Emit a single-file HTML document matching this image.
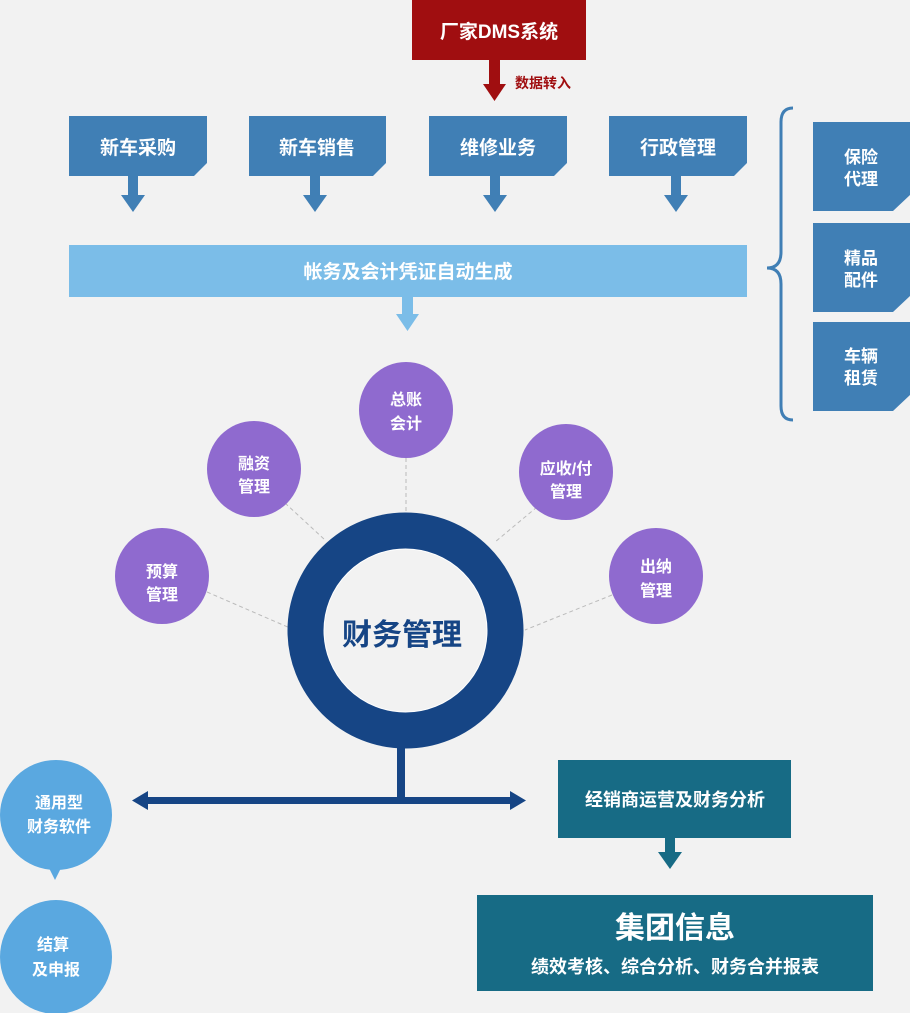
<!DOCTYPE html>
<html><head><meta charset="utf-8"><style>
html,body{margin:0;padding:0;background:#f2f2f2;}
svg{display:block;font-family:"Liberation Sans","Noto Sans CJK SC",sans-serif;font-weight:bold;}
</style></head><body>
<svg width="910" height="1013" viewBox="0 0 910 1013" xmlns="http://www.w3.org/2000/svg">
<rect width="910" height="1013" fill="#f2f2f2"/>
<!-- DMS -->
<rect x="412" y="0" width="174" height="60" fill="#a00e10"/>
<text x="499" y="38" fill="#fff" font-size="19" text-anchor="middle">厂家DMS系统</text>
<rect x="489" y="60" width="11" height="25" fill="#a00e10"/>
<polygon points="483,84 506,84 494.5,101" fill="#a00e10"/>
<text x="515" y="88" fill="#a00e10" font-size="14">数据转入</text>
<!-- four boxes -->
<g fill="#407fb5">
<polygon points="69,116 207,116 207,163 194,176 69,176"/>
<polygon points="249,116 386,116 386,163 373,176 249,176"/>
<polygon points="429,116 567,116 567,163 554,176 429,176"/>
<polygon points="609,116 747,116 747,163 734,176 609,176"/>
<rect x="128" y="176" width="10" height="20"/><polygon points="121,195 145,195 133,212"/>
<rect x="310" y="176" width="10" height="20"/><polygon points="303,195 327,195 315,212"/>
<rect x="490" y="176" width="10" height="20"/><polygon points="483,195 507,195 495,212"/>
<rect x="671" y="176" width="10" height="20"/><polygon points="664,195 688,195 676,212"/>
</g>
<g fill="#fff" font-size="19" text-anchor="middle">
<text x="138" y="154">新车采购</text>
<text x="317" y="154">新车销售</text>
<text x="498" y="154">维修业务</text>
<text x="678" y="154">行政管理</text>
</g>
<!-- light bar -->
<rect x="69" y="245" width="678" height="52" fill="#7bbde8"/>
<text x="408" y="278" fill="#fff" font-size="19" text-anchor="middle">帐务及会计凭证自动生成</text>
<rect x="402" y="297" width="11" height="18" fill="#7bbde8"/>
<polygon points="396,314 419,314 407.5,331" fill="#7bbde8"/>
<!-- bracket -->
<path d="M793,108 Q781,108 781,122 L781,252 Q781,268 767,268 Q781,268 781,284 L781,406 Q781,420 793,420" fill="none" stroke="#407fb5" stroke-width="3"/>
<g fill="#407fb5">
<polygon points="813,122 910,122 910,195 893,211 813,211"/>
<polygon points="813,223 910,223 910,296 893,312 813,312"/>
<polygon points="813,322 910,322 910,395 893,411 813,411"/>
</g>
<g fill="#fff" font-size="17" text-anchor="middle">
<text x="861" y="163">保险</text><text x="861" y="185">代理</text>
<text x="861" y="264">精品</text><text x="861" y="286">配件</text>
<text x="861" y="362">车辆</text><text x="861" y="384">租赁</text>
</g>
<!-- dashed connectors -->
<g stroke="#bbb" stroke-width="1" stroke-dasharray="4,3">
<line x1="406" y1="458" x2="406" y2="514"/>
<line x1="285" y1="503" x2="325" y2="540"/>
<line x1="537" y1="507" x2="495" y2="542"/>
<line x1="207" y1="592" x2="290" y2="628"/>
<line x1="612" y1="595" x2="525" y2="630"/>
</g>
<!-- purple circles -->
<g fill="#8f6acf">
<ellipse cx="406" cy="410" rx="47" ry="48"/>
<ellipse cx="254" cy="469" rx="47" ry="48"/>
<ellipse cx="566" cy="472" rx="47" ry="48"/>
<ellipse cx="162" cy="576" rx="47" ry="48"/>
<ellipse cx="656" cy="576" rx="47" ry="48"/>
</g>
<g fill="#fff" font-size="16" text-anchor="middle">
<text x="406" y="405">总账</text><text x="406" y="429">会计</text>
<text x="254" y="469">融资</text><text x="254" y="492">管理</text>
<text x="566" y="474">应收/付</text><text x="566" y="497">管理</text>
<text x="162" y="577">预算</text><text x="162" y="600">管理</text>
<text x="656" y="572">出纳</text><text x="656" y="596">管理</text>
</g>
<!-- ring -->
<circle cx="405.5" cy="630.5" r="100" fill="#fff" stroke="#164585" stroke-width="36"/>
<circle cx="405.5" cy="630.5" r="81" fill="#f2f2f2"/>
<text x="402" y="645" fill="#164585" font-size="30" text-anchor="middle">财务管理</text>
<!-- stem & arrow -->
<rect x="397" y="746" width="8" height="55" fill="#164585"/>
<rect x="145" y="797" width="368" height="7" fill="#164585"/>
<polygon points="132,800.5 148,791 148,810" fill="#164585"/>
<polygon points="526,800.5 510,791 510,810" fill="#164585"/>
<!-- left bubbles -->
<ellipse cx="56" cy="815" rx="56" ry="55" fill="#5aa8e0"/>
<polygon points="49,868 61,868 55,880" fill="#5aa8e0"/>
<ellipse cx="56" cy="957" rx="56" ry="57" fill="#5aa8e0"/>
<g fill="#fff" font-size="16" text-anchor="middle">
<text x="59" y="808">通用型</text><text x="59" y="832">财务软件</text>
<text x="53" y="950">结算</text><text x="56" y="975">及申报</text>
</g>
<!-- right boxes -->
<rect x="558" y="760" width="233" height="78" fill="#176b85"/>
<text x="675" y="806" fill="#fff" font-size="18" text-anchor="middle">经销商运营及财务分析</text>
<rect x="665" y="838" width="10" height="16" fill="#176b85"/>
<polygon points="658,852 682,852 670,869" fill="#176b85"/>
<rect x="477" y="895" width="396" height="96" fill="#176b85"/>
<text x="675" y="938" fill="#fff" font-size="30" text-anchor="middle">集团信息</text>
<text x="675" y="973" fill="#fff" font-size="18" text-anchor="middle">绩效考核、综合分析、财务合并报表</text>
</svg>
</body></html>
